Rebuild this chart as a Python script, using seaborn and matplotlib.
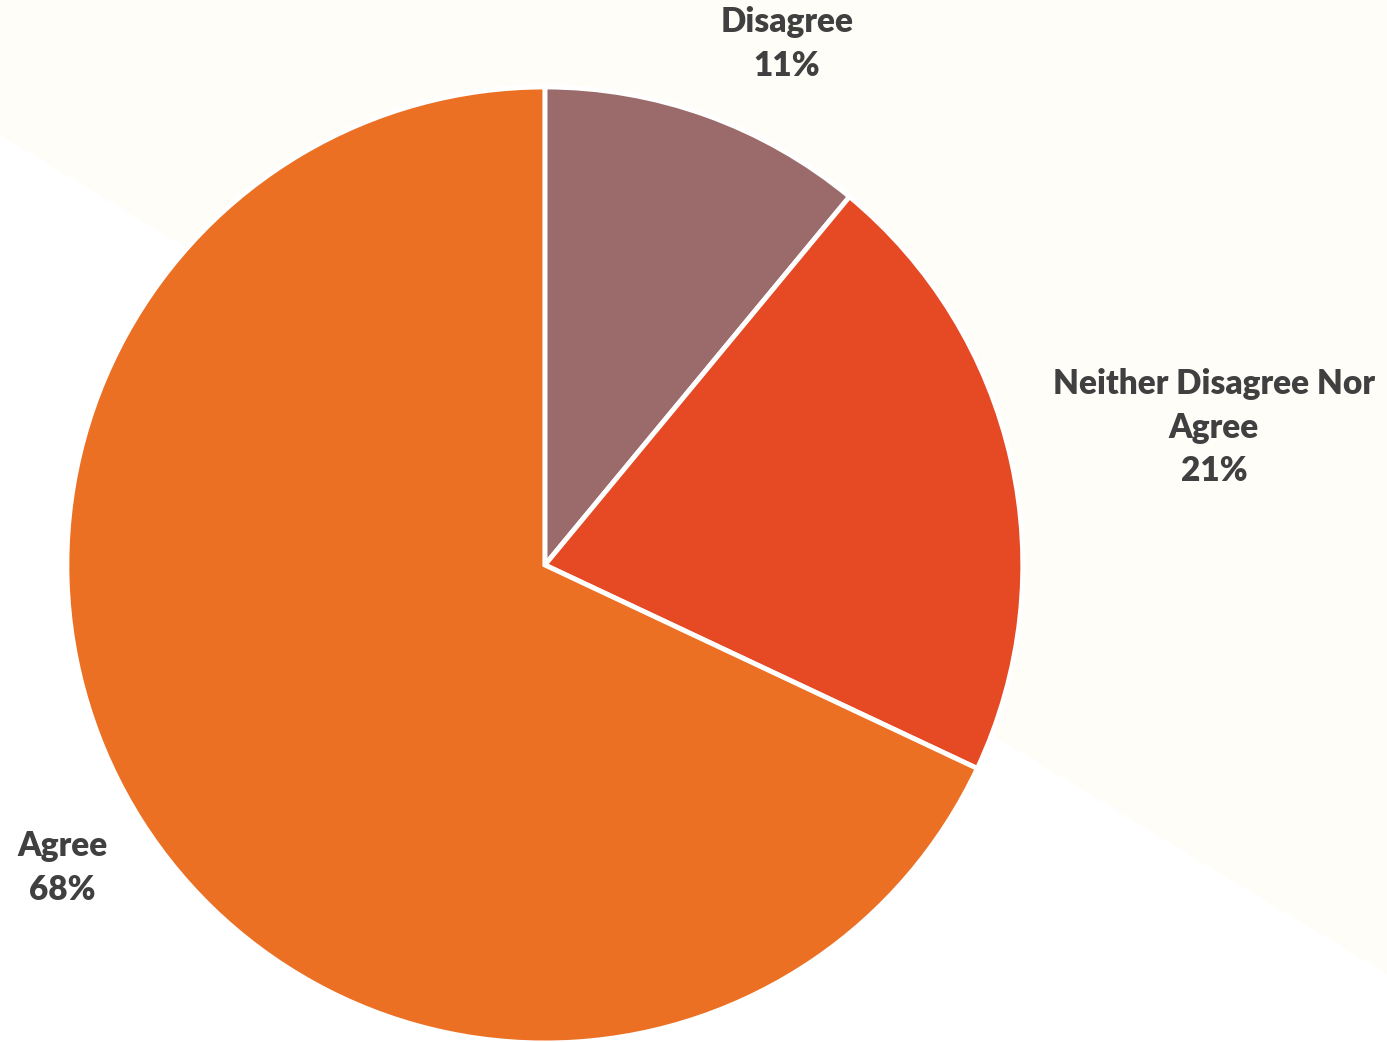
import matplotlib.pyplot as plt
import seaborn as sns
from matplotlib.patches import Polygon

sns.set_theme(style="white")
plt.rcParams["font.family"] = ["Lato", "DejaVu Sans"]

categories = ["Disagree", "Neither Disagree Nor\nAgree", "Agree"]
shares = [11, 21, 68]
colors = ["#9b6b6b", "#e64a25", "#eb7024"]

# label anchor points in pie-radius units (pie centre = 0, 0)
label_pos = [(0.506, 1.09), (1.40, 0.287), (-1.01, -0.634)]

fig = plt.figure(figsize=(13.87, 10.42), dpi=100, facecolor="white")
ax = fig.add_axes([0, 0, 1, 1])
ax.set_facecolor("none")

# cream diagonal backdrop behind the chart
ax.add_patch(Polygon([(0, 1), (0, 0.8704), (1, 0.0653), (1, 1)],
                     closed=True, transform=ax.transAxes,
                     facecolor="#fffdf8", edgecolor="none", zorder=0))

ax.pie(shares, colors=colors, startangle=90, counterclock=False, radius=1,
       wedgeprops=dict(edgecolor="white", linewidth=3.5, zorder=2))
ax.set_xlim(-1.140, 1.762)
ax.set_ylim(-0.998, 1.182)
ax.set_aspect("auto")
ax.axis("off")

for name, val, (x, y) in zip(categories, shares, label_pos):
    ax.text(x, y, f"{name}\n{val}%", ha="center", va="center", zorder=3,
            fontsize=24, fontweight="heavy", color="#404040", linespacing=1.45)

fig.savefig("out.png", dpi=100, facecolor=fig.get_facecolor())
